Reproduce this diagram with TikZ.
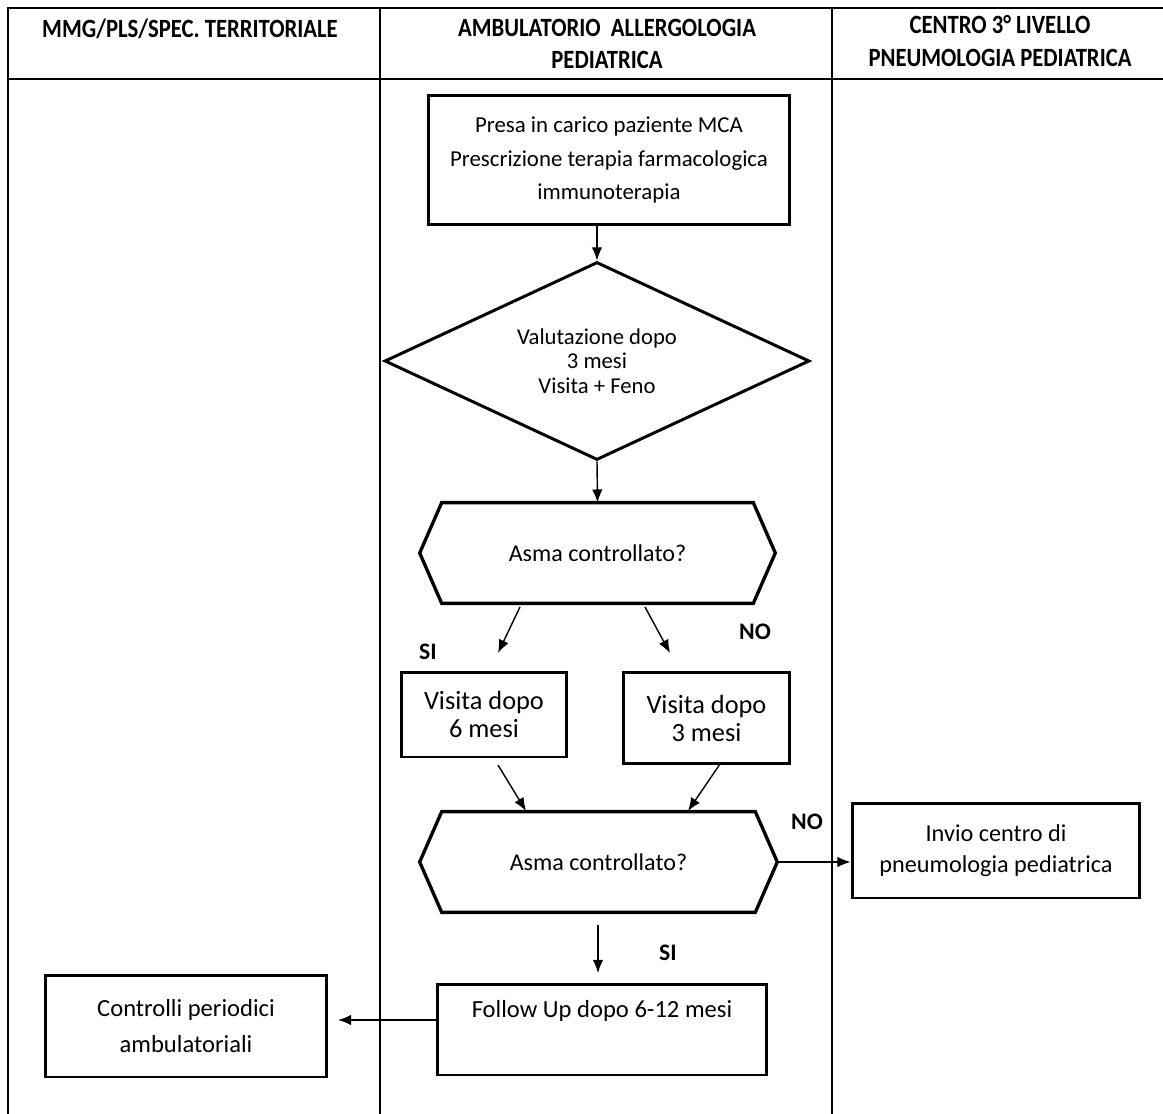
\documentclass[tikz,border=0pt]{standalone}
\usepackage{fontspec}
\setmainfont{Carlito}
\newfontfamily\headfont{Carlito}[FakeStretch=0.86]
\usetikzlibrary{arrows.meta,calc,shapes.geometric}

% hexagonal outline drawn around a rectangular node
\newcommand\hexframe[2]{%
  \draw[hexline] ($(#1.north west)+(#2,0)$) -- ($(#1.north east)+(-#2,0)$) -- (#1.east)
    -- ($(#1.south east)+(-#2,0)$) -- ($(#1.south west)+(#2,0)$) -- (#1.west) -- cycle;}

\begin{document}
\begin{tikzpicture}[x=0.02cm,y=-0.02cm,
  lane/.style={line width=0.9pt},
  stepbox/.style={draw,line width=1.7pt,inner sep=0pt,align=center},
  decide/.style={draw,diamond,line width=1.7pt,inner sep=0pt,aspect=2.15,align=center},
  hexnode/.style={inner sep=0pt,align=center},
  hexline/.style={line width=1.9pt,line join=miter},
  arr/.style={line width=0.8pt,-{Latex[length=7.5pt,width=6pt]}},
  lbl/.style={font=\fontsize{13.5}{16}\selectfont\bfseries},
  head/.style={font=\headfont\fontsize{15}{18.7}\selectfont\bfseries,align=center}]

\useasboundingbox (0,0) rectangle (1163,1114);
\fill[white] (0,0) rectangle (1163,1114);

% swimlane grid
\draw[lane] (8,1114) -- (8,8) -- (1163,8);
\draw[lane] (8,79) -- (1163,79);
\draw[lane] (380,8) -- (380,1114);
\draw[lane] (832,8) -- (832,1114);

% lane headings
\node[head] (hA) at (190,29) {MMG/PLS/SPEC. TERRITORIALE};
\node[head] (hB) at (607,44) {AMBULATORIO\ \ ALLERGOLOGIA\\PEDIATRICA};
\node[head] (hC) at (1000,41) {CENTRO 3° LIVELLO\\PNEUMOLOGIA PEDIATRICA};

% flow steps
\node[stepbox,minimum width=7.24cm,minimum height=2.6cm,
      font=\fontsize{13}{19.3}\selectfont] (take) at (609,160)
  {Presa in carico paziente MCA\\Prescrizione terapia farmacologica\\immunoterapia};

\node[decide,minimum width=8.5cm,minimum height=3.96cm,
      font=\fontsize{12.9}{13.8}\selectfont] (eval) at (597,361)
  {Valutazione dopo\\3 mesi\\Visita + Feno};

\node[hexnode,minimum width=7.1cm,minimum height=2cm,
      font=\fontsize{13.7}{16}\selectfont] (ctrlA) at (597.5,553) {Asma controllato?};
\hexframe{ctrlA}{22}

\node[stepbox,minimum width=3.32cm,minimum height=1.7cm,
      font=\fontsize{15}{15.9}\selectfont] (six) at (484,714.5) {Visita dopo\\6 mesi};
\node[stepbox,minimum width=3.34cm,minimum height=1.84cm,
      font=\fontsize{15}{15.9}\selectfont] (three) at (706.5,718) {Visita dopo\\3 mesi};

\node[hexnode,minimum width=7.14cm,minimum height=2cm,
      font=\fontsize{13.7}{16}\selectfont] (ctrlB) at (598.5,862) {Asma controllato?};
\hexframe{ctrlB}{22}

\node[stepbox,minimum width=5.76cm,minimum height=1.9cm,
      font=\fontsize{13.8}{18}\selectfont] (refer) at (996,850.5)
  {Invio centro di\\pneumologia pediatrica};

\node[stepbox,minimum width=6.6cm,minimum height=1.82cm,
      font=\fontsize{14}{18}\selectfont] (follow) at (602,1029.5)
  {Follow Up dopo 6-12 mesi\\\strut};

\node[stepbox,minimum width=5.64cm,minimum height=2.04cm,
      font=\fontsize{14}{21}\selectfont] (check) at (186,1026)
  {Controlli periodici\\ambulatoriali};

% free ends of the short connectors
\coordinate (siA) at (520,607);   \coordinate (siB) at (498,653);
\coordinate (noA) at (645,607);   \coordinate (noB) at (670,653);
\coordinate (sxA) at (498,765);   \coordinate (sxB) at (526,811);
\coordinate (thA) at (720,764);   \coordinate (thB) at (688,811);
\coordinate (okA) at (598,925);   \coordinate (okB) at (598,973);
\coordinate (fuA) at (437,1020);  \coordinate (fuB) at (338,1020);

% connectors
\draw[arr] (eval.north |- take.south) -- (eval.north);
\draw[arr] (eval.south) -- (ctrlA.north);
\draw[arr] (siA) -- (siB);
\draw[arr] (noA) -- (noB);
\draw[arr] (sxA) -- (sxB);
\draw[arr] (thA) -- (thB);
\draw[arr] (ctrlB.east) -- (refer.west |- ctrlB.east);
\draw[arr] (okA) -- (okB);
\draw[arr] (fuA) -- (fuB);

% branch labels
\node[lbl] (lsi1) at (428,652) {SI};
\node[lbl] (lno1) at (755,632) {NO};
\node[lbl] (lno2) at (807,822) {NO};
\node[lbl] (lsi2) at (668,953) {SI};
\end{tikzpicture}
\end{document}
